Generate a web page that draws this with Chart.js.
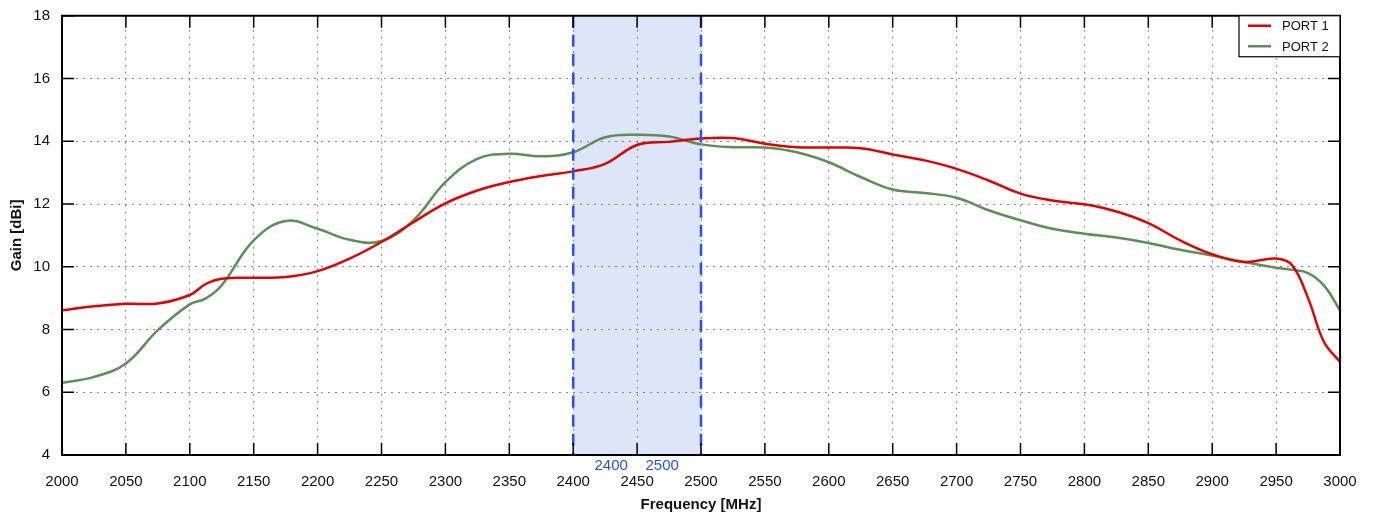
<!doctype html>
<html>
<head>
  <meta charset="UTF-8">
  <script src="https://cdn.jsdelivr.net/npm/chart.js"></script>
  <style>
    body { margin: 0; background: #fff; }
    #wrap { width: 1376px; height: 518px; }
  </style>
</head>
<body>
  <div id="wrap"><canvas id="gainChart" width="1376" height="518"></canvas></div>

<script>
  // Frequency points (MHz) and gain values
  const freqs = [2000, 2025, 2050, 2075, 2100, 2112.5, 2125, 2150, 2175, 2200, 2225, 2250, 2275, 2300,
    2325, 2350, 2375, 2400, 2425, 2450, 2475, 2500, 2525, 2550, 2575, 2600, 2625, 2650, 2675, 2700,
    2725, 2750, 2775, 2800, 2825, 2850, 2875, 2900, 2925, 2950, 2962.5, 2975, 2987.5, 3000];

  const port1 = [8.61, 8.74, 8.82, 8.83, 9.1, 9.45, 9.62, 9.65, 9.67, 9.86, 10.26, 10.79, 11.42, 12.02,
    12.43, 12.7, 12.89, 13.04, 13.28, 13.88, 13.98, 14.09, 14.1, 13.92, 13.81, 13.8, 13.78, 13.58, 13.39, 13.12,
    12.75, 12.33, 12.11, 11.99, 11.76, 11.39, 10.84, 10.4, 10.15, 10.26, 10.05, 9.0, 7.6, 6.97];

  const port2 = [6.3, 6.49, 6.92, 7.98, 8.8, 8.99, 9.41, 10.84, 11.46, 11.21, 10.86, 10.82, 11.48, 12.7,
    13.44, 13.6, 13.52, 13.65, 14.13, 14.21, 14.15, 13.9, 13.81, 13.8, 13.65, 13.33, 12.86, 12.46, 12.35, 12.2,
    11.8, 11.48, 11.21, 11.05, 10.93, 10.76, 10.54, 10.36, 10.15, 9.97, 9.9, 9.8, 9.4, 8.61];

  const seriesNames = ['PORT 1', 'PORT 2'];
  const seriesColors = ['#e00000', '#5b8f57'];

  // highlighted band
  const bandStart = 2400;
  const bandEnd = 2500;

  const FONT = '"Liberation Sans", Arial, sans-serif';

  // band fill, dashed edges, inner ticks, frame, legend
  const decorPlugin = {
    id: 'decor',
    beforeDraw(chart) {
      const { ctx, chartArea: a, scales: { x } } = chart;
      const x0 = x.getPixelForValue(bandStart), x1 = x.getPixelForValue(bandEnd);
      ctx.save();
      ctx.fillStyle = '#dde6f8';
      ctx.fillRect(x0, a.top, x1 - x0, a.bottom - a.top);
      ctx.restore();
    },
    afterDatasetsDraw(chart) {
      const { ctx, chartArea: a, scales: { x, y } } = chart;
      const x0 = x.getPixelForValue(bandStart), x1 = x.getPixelForValue(bandEnd);
      ctx.save();
      // dashed band edges
      ctx.strokeStyle = '#2a50f0';
      ctx.lineWidth = 2.5;
      ctx.setLineDash([12, 7]);
      [x0, x1].forEach(px => {
        ctx.beginPath();
        ctx.moveTo(px, a.top);
        ctx.lineTo(px, a.bottom);
        ctx.stroke();
      });
      ctx.setLineDash([]);
      ctx.fillStyle = '#2a50f0';
      ctx.font = '15px ' + FONT;
      ctx.textAlign = 'center';
      ctx.textBaseline = 'middle';
      ctx.fillText(String(bandStart), x0 + 38, a.bottom + 11);
      ctx.fillText(String(bandEnd), x0 + 89, a.bottom + 11);

      // inward ticks
      ctx.strokeStyle = '#000';
      ctx.lineWidth = 1.5;
      x.ticks.forEach(t => {
        const px = x.getPixelForValue(t.value);
        ctx.beginPath();
        ctx.moveTo(px, a.bottom); ctx.lineTo(px, a.bottom - 12);
        ctx.moveTo(px, a.top); ctx.lineTo(px, a.top + 12);
        ctx.stroke();
      });
      y.ticks.forEach(t => {
        const py = y.getPixelForValue(t.value);
        ctx.beginPath();
        ctx.moveTo(a.left, py); ctx.lineTo(a.left + 12, py);
        ctx.moveTo(a.right, py); ctx.lineTo(a.right - 12, py);
        ctx.stroke();
      });

      // frame
      ctx.lineWidth = 2;
      ctx.strokeRect(a.left, a.top, a.right - a.left, a.bottom - a.top);

      // legend box
      const lw = 101, lh = 41;
      const lx = a.right - lw, ly = a.top;
      ctx.fillStyle = '#fff';
      ctx.fillRect(lx, ly, lw, lh);
      ctx.lineWidth = 1.2;
      ctx.strokeRect(lx, ly, lw, lh);
      ctx.font = '13px ' + FONT;
      ctx.textAlign = 'left';
      chart.data.datasets.forEach((ds, i) => {
        const ry = ly + 10 + i * 20.5;
        ctx.strokeStyle = ds.borderColor;
        ctx.lineWidth = 2.5;
        ctx.beginPath();
        ctx.moveTo(lx + 9, ry); ctx.lineTo(lx + 32, ry);
        ctx.stroke();
        ctx.fillStyle = '#111';
        ctx.fillText(ds.label, lx + 43, ry + 1);
      });
      ctx.restore();
    }
  };

  const makePoints = vals => freqs.map((f, i) => ({ x: f, y: vals[i] }));

  const ctx = document.getElementById('gainChart').getContext('2d');
  const gainChart = new Chart(ctx, {
    type: 'line',
    data: {
      datasets: [port1, port2].map((vals, i) => ({
        label: seriesNames[i],
        data: makePoints(vals),
        borderColor: seriesColors[i],
        borderWidth: 2.5,
        pointRadius: 0,
        fill: false,
        tension: 0.4
      }))
    },
    options: {
      responsive: false,
      animation: false,
      layout: { padding: { top: 15, right: 36, left: 8, bottom: 0 } },
      plugins: { legend: { display: false }, tooltip: { enabled: false } },
      scales: {
        x: {
          type: 'linear',
          min: 2000, max: 3000,
          ticks: { stepSize: 50, color: '#111', font: { family: FONT, size: 15 }, padding: 18, maxRotation: 0,
            callback: v => String(v) },
          grid: { color: '#888', lineWidth: 1, drawTicks: false },
          border: { display: false, dash: [2, 5] },
          title: { display: true, text: 'Frequency [MHz]', color: '#111', font: { family: FONT, size: 15, weight: 'bold' }, padding: { top: 4 } },
          afterFit(s) { s.height = 63; }
        },
        y: {
          min: 4, max: 18,
          ticks: { stepSize: 2, color: '#111', font: { family: FONT, size: 15, lineHeight: 0.5 }, padding: 12,
            callback: v => String(v) },
          grid: { color: '#888', lineWidth: 1, drawTicks: false },
          border: { display: false, dash: [2, 5] },
          title: { display: true, text: 'Gain [dBi]', color: '#111', font: { family: FONT, size: 15, weight: 'bold' }, padding: 0 },
          afterFit(s) { s.width = 54; }
        }
      }
    },
    plugins: [decorPlugin]
  });
</script>
</body>
</html>
